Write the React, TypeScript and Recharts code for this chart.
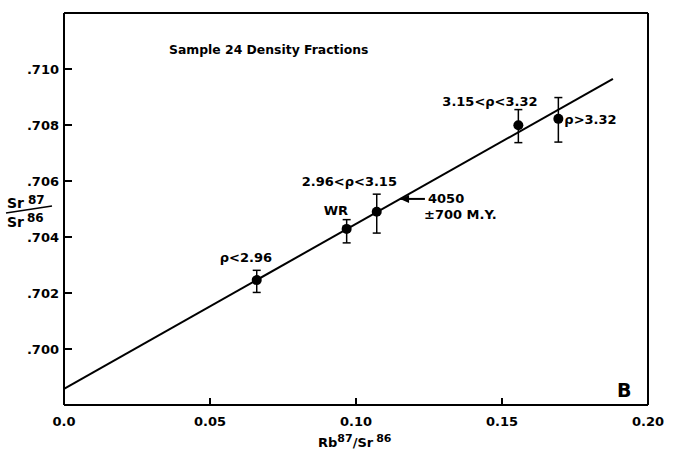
import React from 'react';
import { ScatterChart, Scatter, XAxis, YAxis, ErrorBar, ReferenceLine, ReferenceDot, LabelList } from 'recharts';

// Rb87/Sr86 vs Sr87/Sr86, sample 24 density fractions
const rbSr = [0.066, 0.0968, 0.1071, 0.1556, 0.1693];
const srSr = [0.70246, 0.70429, 0.7049, 0.70799, 0.70822];
const errMinus = [0.00044, 0.0005, 0.00076, 0.00062, 0.00083];
const errPlus = [0.00035, 0.00033, 0.00063, 0.00056, 0.00076];
const fractionNames = ['ρ<2.96', 'WR', '2.96<ρ<3.15', '3.15<ρ<3.32', 'ρ>3.32'];

const isochronX = [0, 0.188];
const isochronY = [0.69858, 0.70965];
const arrowX = [0.1151, 0.1236];
const arrowY = 0.70536;

const xTicks = [0, 0.05, 0.1, 0.15, 0.2];
const xTickLabels = ['0.0', '0.05', '0.10', '0.15', '0.20'];
const yTicks = [0.7, 0.702, 0.704, 0.706, 0.708, 0.71];
const yTickLabels = ['.700', '.702', '.704', '.706', '.708', '.710'];

const FONT = '"DejaVu Sans", sans-serif';

const points = rbSr.map((x, i) => ({
  x,
  y: srSr[i],
  err: [errMinus[i], errPlus[i]],
  name: fractionNames[i],
}));

// label placement relative to each point (dx, dy)
const labelOffsets = [
  [-37, -18],
  [-23, -14],
  [-75, -26],
  [-76, -19],
  [6, 5],
];

const XTick = (props: any) => {
  const { x, y, index } = props;
  return (
    <g>
      <line x1={x} x2={x} y1={y} y2={y - 7} stroke="#000" strokeWidth={2} />
      <text x={x} y={y + 21} textAnchor="middle" fontFamily={FONT} fontWeight="bold" fontSize={13} fill="#000">
        {xTickLabels[index]}
      </text>
    </g>
  );
};

const YTick = (props: any) => {
  const { x, y, index } = props;
  return (
    <g>
      <line x1={x} x2={x + 8} y1={y} y2={y} stroke="#000" strokeWidth={2} />
      <text x={x - 5} y={y + 5} textAnchor="end" fontFamily={FONT} fontWeight="bold" fontSize={13} fill="#000">
        {yTickLabels[index]}
      </text>
    </g>
  );
};

const Dot = (props: any) => <circle cx={props.cx} cy={props.cy} r={5} fill="#000" />;

const PointLabel = (props: any) => {
  const { x, y, width, height, index, value } = props;
  const cx = x + (width || 0) / 2;
  const cy = y + (height || 0) / 2;
  const [dx, dy] = labelOffsets[index];
  return (
    <text x={cx + dx} y={cy + dy} fontFamily={FONT} fontWeight="bold" fontSize={13} fill="#000">
      {value}
    </text>
  );
};

const ArrowHead = (props: any) => {
  const { cx, cy } = props;
  return <polygon points={`${cx},${cy} ${cx + 9},${cy - 4} ${cx + 9},${cy + 4}`} fill="#000" />;
};

export default function App() {
  return (
    <div>
      <style>{'body{margin:0;background:#fff}'}</style>
      <ScatterChart width={676} height={454} margin={{ top: 13, right: 28, bottom: 1, left: 0 }}>
        <XAxis
          type="number"
          dataKey="x"
          domain={[0, 0.2]}
          ticks={xTicks}
          interval={0}
          height={48}
          tickSize={0}
          tickMargin={0}
          tickLine={false}
          tick={<XTick />}
          axisLine={{ stroke: '#000', strokeWidth: 2 }}
          allowDataOverflow
        />
        <YAxis
          type="number"
          dataKey="y"
          domain={[0.698, 0.712]}
          ticks={yTicks}
          interval={0}
          width={64}
          tickSize={0}
          tickMargin={0}
          tickLine={false}
          tick={<YTick />}
          axisLine={{ stroke: '#000', strokeWidth: 2 }}
          allowDataOverflow
        />
        <ReferenceLine x={0.2} stroke="#000" strokeWidth={2} />
        <ReferenceLine y={0.712} stroke="#000" strokeWidth={2} />
        <ReferenceLine
          segment={[
            { x: isochronX[0], y: isochronY[0] },
            { x: isochronX[1], y: isochronY[1] },
          ]}
          stroke="#000"
          strokeWidth={2}
        />
        <ReferenceLine
          segment={[
            { x: arrowX[0], y: arrowY },
            { x: arrowX[1], y: arrowY },
          ]}
          stroke="#000"
          strokeWidth={2}
        />
        <ReferenceDot x={arrowX[0]} y={arrowY} r={0} shape={<ArrowHead />} />
        <Scatter data={points} shape={<Dot />} isAnimationActive={false}>
          <ErrorBar dataKey="err" direction="y" width={4} stroke="#000" strokeWidth={1.5} />
          <LabelList dataKey="name" content={<PointLabel />} />
        </Scatter>
        <text x={169} y={54} fontFamily={FONT} fontSize={12.4} fontWeight="bold" fill="#000">
          Sample 24  Density Fractions
        </text>
        <text x={617} y={397} fontFamily={FONT} fontSize={19} fontWeight="bold" fill="#000">
          B
        </text>
        <text x={428} y={203} fontFamily={FONT} fontSize={13} fontWeight="bold" fill="#000">
          4050
        </text>
        <text x={424} y={219} fontFamily={FONT} fontSize={13} fontWeight="bold" fill="#000">
          ±700 M.Y.
        </text>
        <text x={318} y={447} fontFamily={FONT} fontSize={13} fontWeight="bold" fill="#000">
          Rb<tspan dy={-5} fontSize={11}>87</tspan>
          <tspan dy={5}>/Sr</tspan>
          <tspan dx={3} dy={-5} fontSize={11}>86</tspan>
        </text>
        <text x={7} y={208} fontFamily={FONT} fontSize={14} fontWeight="bold" fill="#000">
          Sr<tspan dx={4} dy={-4} fontSize={12}>87</tspan>
        </text>
        <line x1={6} y1={213} x2={52} y2={206} stroke="#000" strokeWidth={1.5} />
        <text x={7} y={227} fontFamily={FONT} fontSize={14} fontWeight="bold" fill="#000">
          Sr<tspan dx={3} dy={-5} fontSize={12}>86</tspan>
        </text>
      </ScatterChart>
    </div>
  );
}
